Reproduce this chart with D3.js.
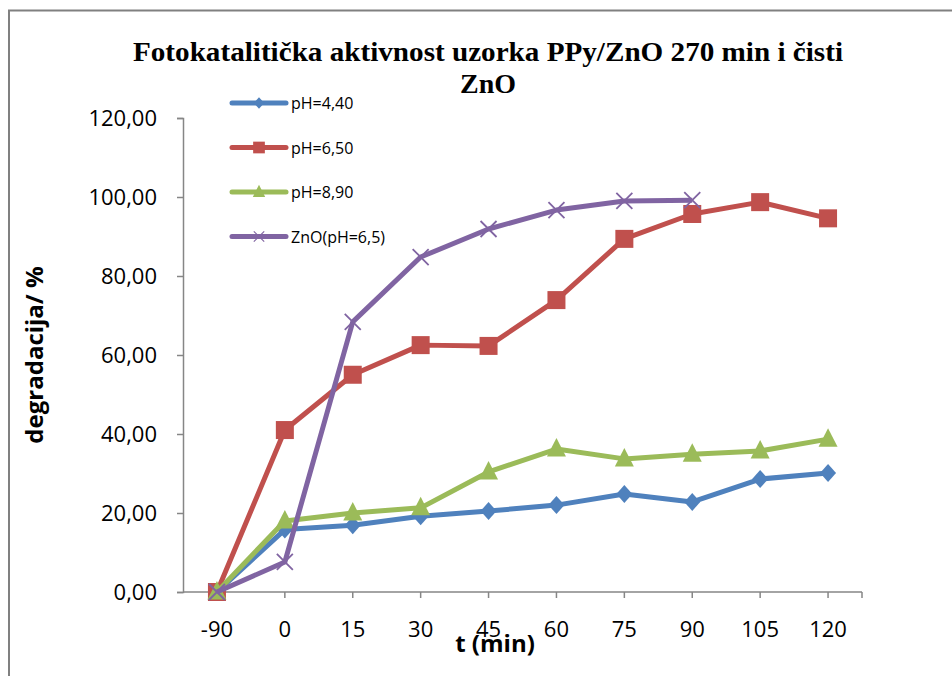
<!DOCTYPE html>
<meta charset="utf-8">
<html>
<style>
  body { margin: 0; background: #fff; }
  svg text { font-family: "Open Sans", "Liberation Sans", sans-serif; }
</style>
<body>
<div id="chart"></div>
<script src="https://d3js.org/d3.v7.min.js"></script>
<script>
// ----- Data -----
const categories = ["-90", "0", "15", "30", "45", "60", "75", "90", "105", "120"];
const ph440 = [0, 15.8, 16.9, 19.2, 20.5, 22.0, 24.8, 22.8, 28.6, 30.1];
const ph650 = [0, 41.0, 55.0, 62.5, 62.3, 73.9, 89.4, 95.7, 98.7, 94.6];
const ph890 = [0, 18.0, 20.0, 21.3, 30.4, 36.2, 33.7, 34.9, 35.7, 38.7];
const zno65 = [0, 7.6, 68.4, 84.8, 91.9, 96.7, 99.0, 99.2];
const yTicks = [0, 20, 40, 60, 80, 100, 120];

const series = [
  {name: "pH=4,40", values: ph440, color: "#4F81BD", marker: "diamond"},
  {name: "pH=6,50", values: ph650, color: "#C0504D", marker: "square"},
  {name: "pH=8,90", values: ph890, color: "#9BBB59", marker: "triangle"},
  {name: "ZnO(pH=6,5)", values: zno65, color: "#8064A2", marker: "cross"}
];

const W = 952, H = 676;
const margin = {top: 118, left: 183, right: 90, bottom: 84};
const width = W - margin.left - margin.right,
      height = H - margin.top - margin.bottom;

const svg = d3.select("#chart").append("svg")
  .attr("width", W).attr("height", H);

// chart frame
svg.append("path")
  .attr("d", "M9,676 V10.5 H952")
  .attr("fill", "none").attr("stroke", "#808080").attr("stroke-width", 2);

// title
svg.append("text")
  .attr("x", 488).attr("y", 61)
  .attr("text-anchor", "middle")
  .attr("textLength", 710).attr("lengthAdjust", "spacingAndGlyphs")
  .style("font-family", "'Liberation Serif', 'Times New Roman', serif")
  .style("font-weight", "bold").style("font-size", "28px")
  .text("Fotokatalitička aktivnost uzorka PPy/ZnO 270 min i čisti");
svg.append("text")
  .attr("x", 488).attr("y", 93)
  .attr("text-anchor", "middle")
  .attr("textLength", 56).attr("lengthAdjust", "spacingAndGlyphs")
  .style("font-family", "'Liberation Serif', 'Times New Roman', serif")
  .style("font-weight", "bold").style("font-size", "28px")
  .text("ZnO");

const g = svg.append("g")
  .attr("transform", "translate(" + margin.left + "," + margin.top + ")");

// scales
const x = d3.scaleBand().domain(categories).range([0, width]);
const cx = d => x(d) + x.bandwidth() / 2;
const y = d3.scaleLinear().domain([0, 120]).range([height, 0]);

// Y axis
const axisY = g.append("g")
  .call(d3.axisLeft(y).tickValues(yTicks).tickSize(6).tickPadding(20)
        .tickFormat(d => d3.format(".2f")(d).replace(".", ",")));
axisY.select(".domain").attr("stroke", "#868686").attr("stroke-width", 1.5);
axisY.selectAll(".tick line").attr("stroke", "#868686").attr("stroke-width", 1.5);
axisY.selectAll("text").style("font-size", "22px").attr("fill", "#000")
  .style("font-family", "'Open Sans', sans-serif");

// X axis
const axisX = g.append("g").attr("transform", "translate(0," + height + ")");
axisX.append("line")
  .attr("x1", 0).attr("x2", width).attr("y1", 0).attr("y2", 0)
  .attr("stroke", "#868686").attr("stroke-width", 1.5);
axisX.selectAll(".tk")
  .data(categories.slice(1).map(cx).concat([width]))
  .join("line")
  .attr("x1", d => d).attr("x2", d => d)
  .attr("y1", 0).attr("y2", 6)
  .attr("stroke", "#868686").attr("stroke-width", 1.5);
axisX.selectAll(".lbl")
  .data(categories)
  .join("text")
  .attr("x", d => cx(d)).attr("y", 45)
  .attr("text-anchor", "middle")
  .style("font-size", "22px")
  .text(d => d);

// axis titles
svg.append("text")
  .attr("x", 495).attr("y", 652)
  .attr("text-anchor", "middle")
  .style("font-weight", "bold").style("font-size", "24px")
  .text("t (min)");
svg.append("text")
  .attr("transform", "translate(43,355) rotate(-90)")
  .attr("text-anchor", "middle")
  .style("font-weight", "bold").style("font-size", "24px")
  .text("degradacija/ %");

// markers
function drawMarker(sel, type, color) {
  if (type === "diamond") {
    sel.append("path").attr("d", "M0,-9 L8,0 L0,9 L-8,0 Z").attr("fill", color);
  } else if (type === "square") {
    sel.append("rect").attr("x", -9).attr("y", -9).attr("width", 18).attr("height", 18).attr("fill", color);
  } else if (type === "triangle") {
    sel.append("path").attr("d", "M0,-11 L9.5,7.5 L-9.5,7.5 Z").attr("fill", color);
  } else {
    sel.append("path").attr("d", "M-8,-8 L8,8 M-8,8 L8,-8")
      .attr("stroke", color).attr("stroke-width", 1.8).attr("fill", "none");
  }
}

const line = d3.line().x((d, i) => cx(categories[i])).y(d => y(d));

series.forEach(s => {
  g.append("path")
    .datum(s.values)
    .attr("d", line)
    .attr("fill", "none")
    .attr("stroke", s.color)
    .attr("stroke-width", 5)
    .attr("stroke-linejoin", "round");
  g.selectAll(null)
    .data(s.values)
    .join("g")
    .attr("transform", (d, i) => "translate(" + cx(categories[i]) + "," + y(d) + ")")
    .each(function() { drawMarker(d3.select(this), s.marker, s.color); });
});

// legend
const legend = svg.append("g").attr("transform", "translate(232,103)");
series.forEach((s, i) => {
  const row = legend.append("g").attr("transform", "translate(0," + (i * 44.5) + ")");
  row.append("line").attr("x1", 0).attr("x2", 54).attr("y1", 0).attr("y2", 0)
    .attr("stroke", s.color).attr("stroke-width", 5).attr("stroke-linecap", "round");
  const m = row.append("g").attr("transform", "translate(27,0) scale(0.65)");
  drawMarker(m, s.marker, s.color);
  row.append("text").attr("x", 59).attr("y", 6)
    .style("font-size", "16px").text(s.name);
});
</script>
</body>
</html>
